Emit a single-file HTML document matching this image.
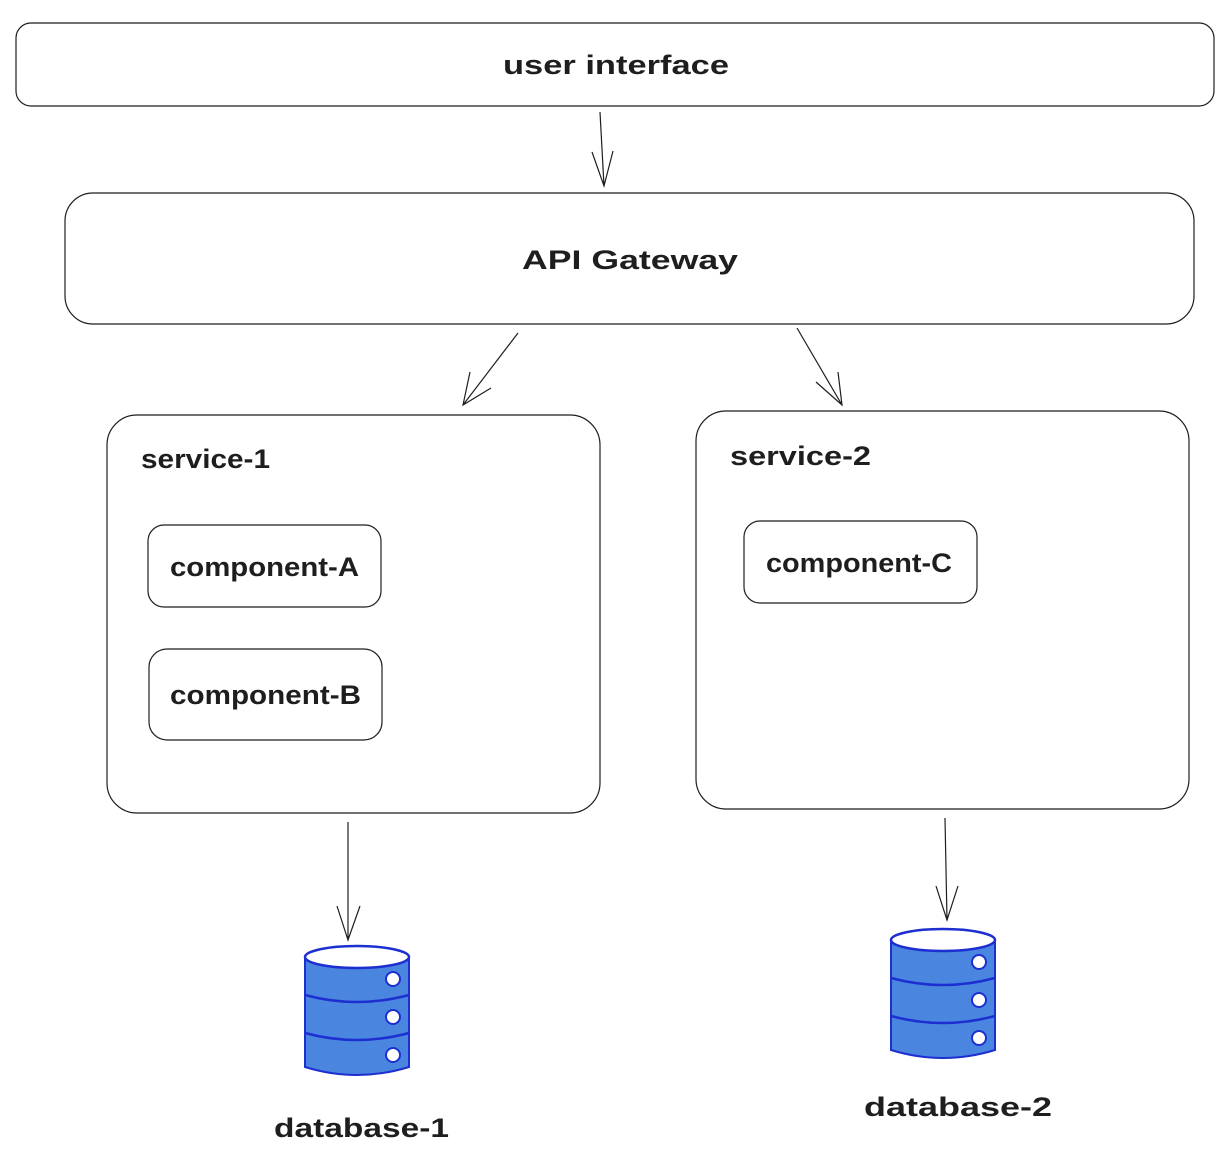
<!DOCTYPE html>
<html><head><meta charset="utf-8"><style>
html,body{margin:0;padding:0;background:#fff;}
svg{display:block;}
text{font-family:"Liberation Sans",sans-serif;fill:#1e1e1e;font-size:27px;font-weight:bold;}
</style></head><body>
<svg width="1228" height="1156" viewBox="0 0 1228 1156" xmlns="http://www.w3.org/2000/svg">
<defs>
<g id="db">
  <path d="M0,12 L0,122 Q52,138 104,122 L104,12 Z" fill="#4a86e0" stroke="#1d2fd0" stroke-width="2"/>
  <ellipse cx="52" cy="12" rx="52" ry="11" fill="#fff" stroke="#1d2fd0" stroke-width="2.5"/>
  <path d="M0,50 Q52,64 104,50" fill="none" stroke="#1d2fd0" stroke-width="2.5"/>
  <path d="M0,88 Q52,102 104,88" fill="none" stroke="#1d2fd0" stroke-width="2.5"/>
  <circle cx="88" cy="34" r="7" fill="#fff" stroke="#1d2fd0" stroke-width="2"/>
  <circle cx="88" cy="72" r="7" fill="#fff" stroke="#1d2fd0" stroke-width="2"/>
  <circle cx="88" cy="110" r="7" fill="#fff" stroke="#1d2fd0" stroke-width="2"/>
</g>
</defs>
<g fill="none" stroke="#1e1e1e" stroke-width="1.2">
  <rect x="16" y="23" width="1198" height="83" rx="15"/>
  <rect x="65" y="193" width="1129" height="131" rx="28"/>
  <rect x="107" y="415" width="493" height="398" rx="30"/>
  <rect x="148" y="525" width="233" height="82" rx="16"/>
  <rect x="149" y="649" width="233" height="91" rx="18"/>
  <rect x="696" y="411" width="493" height="398" rx="30"/>
  <rect x="744" y="521" width="233" height="82" rx="16"/>
  <path d="M600,112 L604,186 M592,152 L604,186 L613,151"/>
  <path d="M518,333 L463,405 M470,372 L463,405 L491,388"/>
  <path d="M797,328 L842,405 M816,382 L842,405 L838,372"/>
  <path d="M348,822 L348,940 M337,906 L348,940 L360,906"/>
  <path d="M945,818 L947,920 M936,886 L947,920 L958,886"/>
</g>
<use href="#db" x="305" y="945"/>
<use href="#db" x="891" y="928"/>
<text x="503" y="74" textLength="226" lengthAdjust="spacingAndGlyphs">user interface</text>
<text x="522" y="269" textLength="216" lengthAdjust="spacingAndGlyphs">API Gateway</text>
<text x="141" y="468" textLength="129" lengthAdjust="spacingAndGlyphs">service-1</text>
<text x="730" y="465" textLength="141" lengthAdjust="spacingAndGlyphs">service-2</text>
<text x="170" y="576" textLength="189" lengthAdjust="spacingAndGlyphs">component-A</text>
<text x="170" y="704" textLength="191" lengthAdjust="spacingAndGlyphs">component-B</text>
<text x="766" y="572" textLength="186" lengthAdjust="spacingAndGlyphs">component-C</text>
<text x="274" y="1137" textLength="175" lengthAdjust="spacingAndGlyphs">database-1</text>
<text x="864" y="1116" textLength="188" lengthAdjust="spacingAndGlyphs">database-2</text>
</svg>
</body></html>
